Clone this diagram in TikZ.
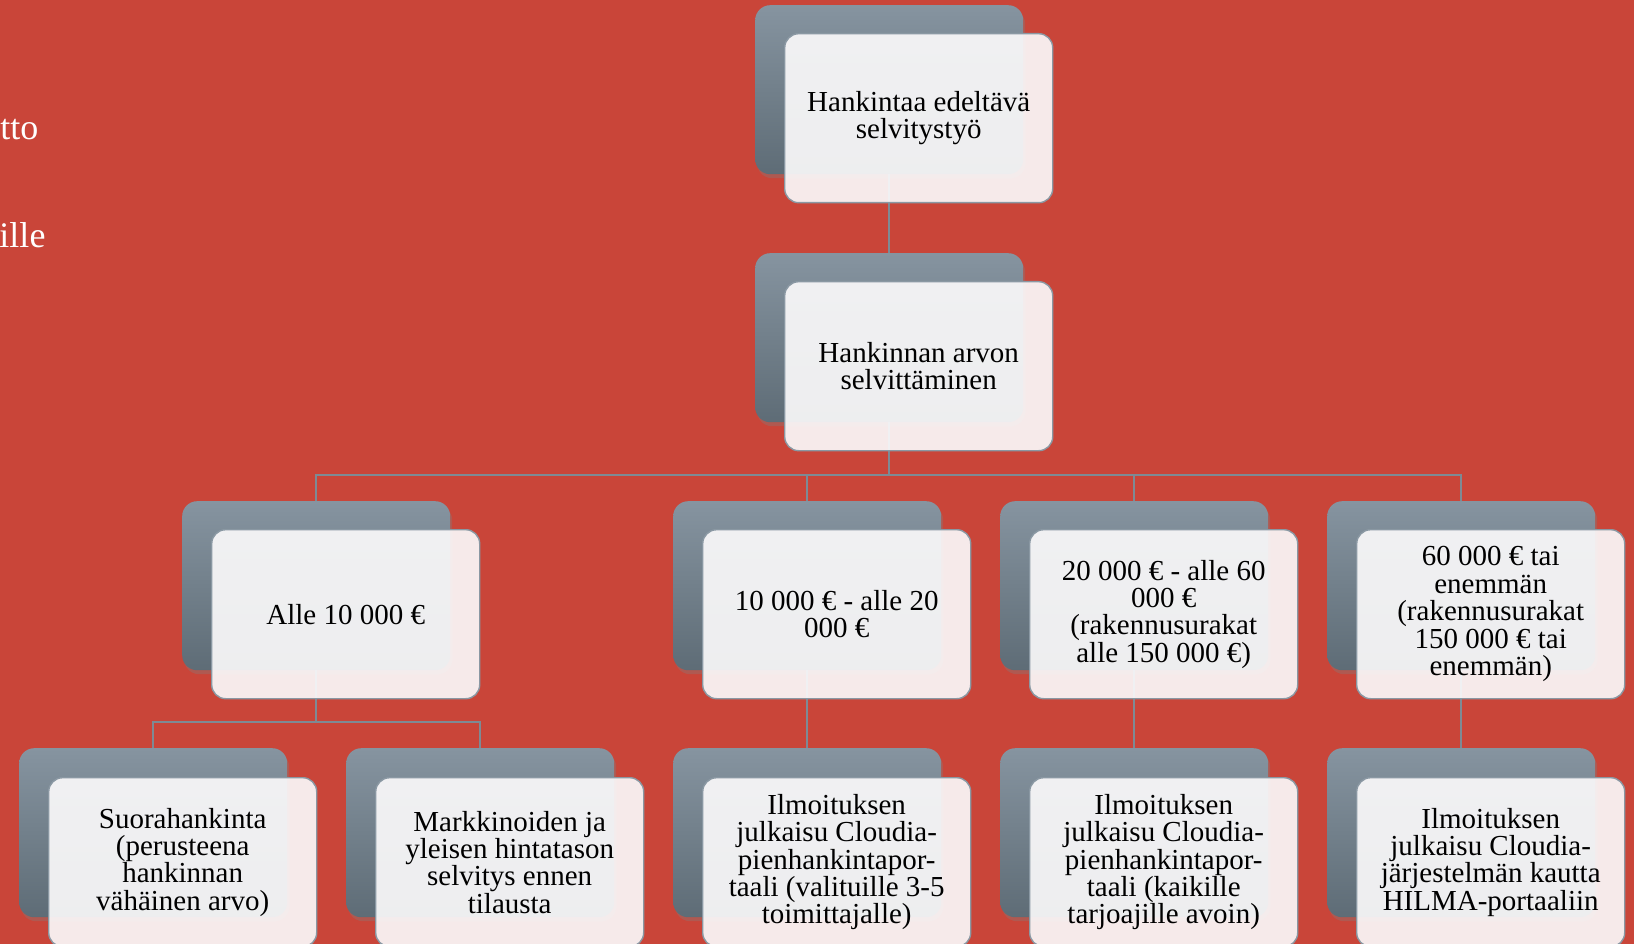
\documentclass[tikz,border=0pt]{standalone}
\usepackage{fontspec}
\setmainfont{Liberation Serif}
\usetikzlibrary{shadows}
\definecolor{bg}{RGB}{201,69,57}
\definecolor{graytop}{RGB}{134,148,160}
\definecolor{graybot}{RGB}{94,108,118}
\definecolor{frontfill}{RGB}{250,249,250}
\definecolor{edge}{RGB}{138,152,163}
\definecolor{connc}{RGB}{125,138,148}
\begin{document}
\begin{tikzpicture}[x=1pt,y=-1pt,
  back/.style={anchor=north west, minimum width=268pt, minimum height=169pt,
    rounded corners=15pt, top color=graytop, bottom color=graybot, draw=none,
    drop shadow={opacity=0.35, shadow xshift=2pt, shadow yshift=-4pt}},
  front/.style={anchor=north west, minimum width=268pt, minimum height=169pt,
    rounded corners=14pt, fill=frontfill, fill opacity=0.92, text opacity=1,
    draw=edge, line width=1.4pt, align=center, text=black, inner sep=0pt,
    font=\fontsize{29}{27.4}\selectfont},
  conn/.style={draw=connc, line width=1.5pt},
  side/.style={anchor=base east, text=white, font=\fontsize{36}{40}\selectfont}]
\useasboundingbox (0,0) rectangle (1634,944);
\fill[bg] (0,0) rectangle (1634,944);
\clip (0,0) rectangle (1634,944);

\node[side] (t1) at (42,140) {tto};
\node[side] (t2) at (49,248) {ille};

% back boxes
\node[back] (g1) at (755,5) {};
\node[back] (g2) at (755,253) {};
\node[back] (g3a) at (182,501) {};
\node[back] (g3b) at (673,501) {};
\node[back] (g3c) at (1000,501) {};
\node[back] (g3d) at (1327,501) {};
\node[back] (g4a) at (19,748) {};
\node[back] (g4b) at (346,748) {};
\node[back] (g4c) at (673,748) {};
\node[back] (g4d) at (1000,748) {};
\node[back] (g4e) at (1327,748) {};

% connectors
\coordinate (b2) at (g2.south |- 0,475);
\coordinate (b3) at (g3a.south |- 0,722);
\draw[conn] (g1.south) -- (g2.north);
\draw[conn] (g2.south) -- (b2);
\draw[conn] (b2) -| (g3a.north);
\draw[conn] (b2) -| (g3b.north);
\draw[conn] (b2) -| (g3c.north);
\draw[conn] (b2) -| (g3d.north);
\draw[conn] (g3a.south) -- (b3);
\draw[conn] (b3) -| (g4a.north);
\draw[conn] (b3) -| (g4b.north);
\draw[conn] (g3b.south) -- (g4c.north);
\draw[conn] (g3c.south) -- (g4d.north);
\draw[conn] (g3d.south) -- (g4e.north);

% front boxes
\node[front] (f1) at (784,33) {Hankintaa edeltävä\\selvitystyö};
\node[front] (f2) at (784,281) {Hankinnan arvon\\selvittäminen};
\node[front] (f3a) at (211,529) {Alle 10 000 €};
\node[front] (f3b) at (702,529) {10 000 € - alle 20\\000 €};
\node[front] (f3c) at (1029,529) {20 000 € - alle 60\\000 €\\(rakennusurakat\\alle 150 000 €)};
\node[front] (f3d) at (1356,529) {60 000 € tai\\enemmän\\(rakennusurakat\\150 000 € tai\\enemmän)};
\node[front] (f4a) at (48,777) {Suorahankinta\\(perusteena\\hankinnan\\vähäinen arvo)};
\node[front] (f4b) at (375,777) {Markkinoiden ja\\yleisen hintatason\\selvitys ennen\\tilausta};
\node[front] (f4c) at (702,777) {Ilmoituksen\\julkaisu Cloudia-\\pienhankintapor-\\taali (valituille 3-5\\toimittajalle)};
\node[front] (f4d) at (1029,777) {Ilmoituksen\\julkaisu Cloudia-\\pienhankintapor-\\taali (kaikille\\tarjoajille avoin)};
\node[front] (f4e) at (1356,777) {Ilmoituksen\\julkaisu Cloudia-\\järjestelmän kautta\\HILMA-portaaliin};
\end{tikzpicture}
\end{document}
